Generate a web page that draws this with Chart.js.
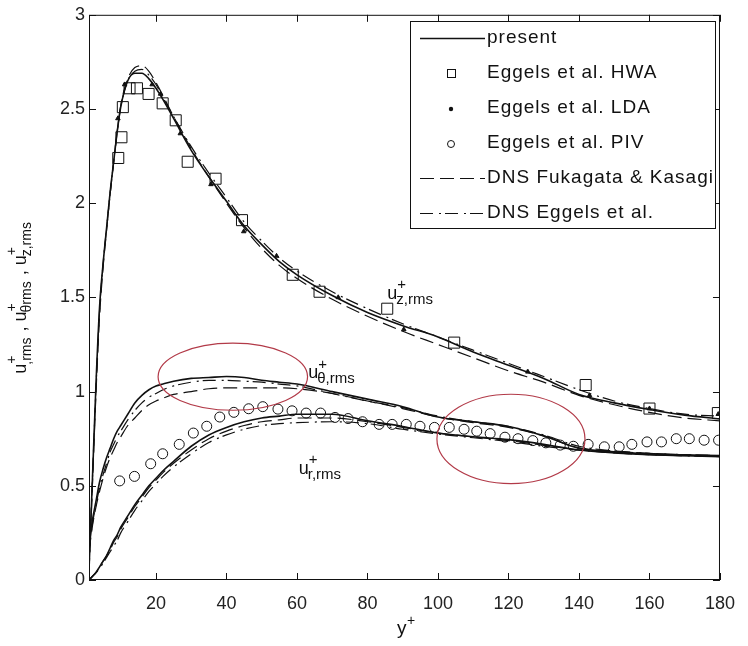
<!DOCTYPE html>
<html lang="en">
<head>
<meta charset="UTF-8">
<title>rms velocity fluctuations</title>
<script src="https://cdn.jsdelivr.net/npm/chart.js"></script>
<style>
  body { margin: 0; background: #fff; }
  #wrap { width: 748px; height: 646px; position: relative; }
</style>
</head>
<body>
<div id="wrap"><canvas id="rmsChart"></canvas></div>
<script>
  // wall distance of the curve samples
  const yPlus = [1, 2, 3, 4, 5, 6, 7, 8, 9, 10, 12, 14, 16, 18, 20, 22, 25, 30, 35, 40, 45, 50, 55, 60,
    70, 80, 90, 100, 110, 120, 130, 140, 150, 160, 170, 180];

  // u_z,rms
  const zPresent = [0.05, 0.55, 1.05, 1.45, 1.68, 1.87, 2.06, 2.22, 2.38, 2.51, 2.65, 2.69, 2.69, 2.66, 2.61, 2.55, 2.45,
    2.28, 2.14, 2.01, 1.88, 1.78, 1.69, 1.62, 1.51, 1.42, 1.35, 1.29, 1.21, 1.14, 1.07, 0.985, 0.94, 0.905, 0.875, 0.855];
  const zFukagata = [0.04, 0.52, 1.0, 1.4, 1.66, 1.86, 2.05, 2.22, 2.38, 2.52, 2.66, 2.72, 2.73, 2.70, 2.64, 2.57, 2.46,
    2.29, 2.14, 2.0, 1.87, 1.76, 1.67, 1.60, 1.49, 1.40, 1.32, 1.25, 1.18, 1.11, 1.05, 0.98, 0.93, 0.89, 0.86, 0.845];
  const zEggels = [0.05, 0.55, 1.03, 1.43, 1.68, 1.87, 2.05, 2.22, 2.38, 2.51, 2.65, 2.70, 2.71, 2.68, 2.63, 2.56, 2.46,
    2.30, 2.16, 2.03, 1.90, 1.80, 1.71, 1.64, 1.53, 1.44, 1.36, 1.29, 1.22, 1.15, 1.08, 1.01, 0.95, 0.91, 0.88, 0.87];

  // u_theta,rms
  const thetaPresent = [0.17, 0.32, 0.42, 0.52, 0.59, 0.65, 0.70, 0.75, 0.79, 0.82, 0.88, 0.94, 0.98, 1.01, 1.03, 1.04, 1.055,
    1.07, 1.075, 1.08, 1.075, 1.06, 1.05, 1.04, 1.0, 0.96, 0.92, 0.865, 0.84, 0.815, 0.765, 0.70, 0.68, 0.67, 0.665, 0.66];
  const thetaFukagata = [0.15, 0.29, 0.39, 0.47, 0.54, 0.60, 0.65, 0.69, 0.73, 0.76, 0.82, 0.86, 0.90, 0.93, 0.95, 0.965, 0.985,
    1.0, 1.015, 1.02, 1.02, 1.02, 1.02, 1.015, 0.99, 0.95, 0.91, 0.865, 0.835, 0.81, 0.765, 0.70, 0.685, 0.672, 0.665, 0.66];
  const thetaEggels = [0.16, 0.30, 0.40, 0.49, 0.56, 0.62, 0.68, 0.72, 0.76, 0.79, 0.85, 0.90, 0.94, 0.97, 0.99, 1.01, 1.03,
    1.05, 1.06, 1.06, 1.055, 1.05, 1.04, 1.03, 0.99, 0.95, 0.915, 0.87, 0.84, 0.815, 0.77, 0.71, 0.685, 0.672, 0.665, 0.66];

  // u_r,rms
  const rPresent = [0.0, 0.02, 0.04, 0.07, 0.10, 0.13, 0.17, 0.21, 0.24, 0.28, 0.34, 0.40, 0.45, 0.50, 0.54, 0.58, 0.63,
    0.71, 0.77, 0.81, 0.84, 0.86, 0.87, 0.88, 0.88, 0.845, 0.815, 0.78, 0.76, 0.745, 0.72, 0.69, 0.675, 0.665, 0.66, 0.655];
  const rFukagata = [0.0, 0.02, 0.04, 0.07, 0.10, 0.13, 0.16, 0.20, 0.23, 0.27, 0.33, 0.39, 0.44, 0.49, 0.53, 0.57, 0.62,
    0.69, 0.75, 0.79, 0.82, 0.84, 0.85, 0.86, 0.86, 0.84, 0.81, 0.78, 0.76, 0.74, 0.715, 0.69, 0.675, 0.665, 0.66, 0.655];
  const rEggels = [0.0, 0.02, 0.04, 0.06, 0.09, 0.12, 0.15, 0.18, 0.21, 0.25, 0.31, 0.37, 0.42, 0.47, 0.51, 0.55, 0.60,
    0.67, 0.73, 0.77, 0.80, 0.82, 0.83, 0.835, 0.84, 0.83, 0.80, 0.775, 0.755, 0.735, 0.71, 0.69, 0.675, 0.665, 0.66, 0.655];

  // experiments (Eggels et al.)
  const hwaX = [9.3, 10.2, 10.6, 12.5, 14.6, 17.9, 21.9, 25.6, 29.0, 36.9, 44.4, 58.8, 66.4, 85.6, 104.6, 141.9, 160, 179.4];
  const hwaY = [2.24, 2.35, 2.51, 2.61, 2.61, 2.58, 2.53, 2.44, 2.22, 2.13, 1.91, 1.62, 1.53, 1.44, 1.26, 1.035, 0.91, 0.886];
  const ldaX = [9.2, 11.1, 18.9, 21.3, 26.9, 35.6, 44.9, 54.2, 71.7, 90.3, 125.5, 143, 160, 179.5];
  const ldaY = [2.45, 2.63, 2.63, 2.58, 2.37, 2.10, 1.85, 1.72, 1.50, 1.33, 1.105, 0.98, 0.91, 0.88];
  const pivX = [9.7, 13.9, 18.5, 21.9, 26.6, 30.6, 34.4, 38.1, 42.1, 46.3, 50.3, 54.6, 58.6, 62.6, 66.7, 70.8, 74.5, 78.6,
    83.3, 87, 91, 94.9, 99, 103.2, 107.4, 111, 114.8, 119, 122.7, 126.9, 130.6, 134.7, 138.4, 142.6, 147.2, 151.4,
    155, 159.3, 163.4, 167.6, 171.3, 175.5, 179.6];
  const pivY = [0.526, 0.55, 0.617, 0.67, 0.72, 0.78, 0.816, 0.865, 0.89, 0.909, 0.92, 0.907, 0.898, 0.886, 0.886, 0.863,
    0.857, 0.84, 0.826, 0.826, 0.826, 0.816, 0.81, 0.81, 0.80, 0.79, 0.777, 0.758, 0.75, 0.74, 0.728, 0.716, 0.71, 0.72,
    0.707, 0.707, 0.72, 0.733, 0.733, 0.75, 0.75, 0.742, 0.742];

  const xTicks = [20, 40, 60, 80, 100, 120, 140, 160, 180];
  const yTicks = [0, 0.5, 1, 1.5, 2, 2.5, 3];

  const legendNames = ['present', 'Eggels et al. HWA', 'Eggels et al. LDA', 'Eggels et al. PIV',
    'DNS Fukagata & Kasagi', 'DNS Eggels et al.'];

  const FONT = '"Liberation Sans", Arial, sans-serif';
  const INK = '#111';
  const FK_DASH = [14, 6];
  const EG_DASH = [13, 6, 2, 4];

  function pairs(xs, ys) {
    return xs.map((x, i) => ({ x: x, y: ys[i] }));
  }

  function curve(ys, dash, width) {
    return {
      data: pairs(yPlus, ys),
      showLine: true,
      borderColor: INK,
      borderWidth: width,
      borderDash: dash,
      pointRadius: 0,
      cubicInterpolationMode: 'monotone',
      fill: false
    };
  }

  function markers(xs, ys, style, radius, filled) {
    return {
      data: pairs(xs, ys),
      showLine: false,
      pointStyle: style,
      pointRadius: radius,
      pointBorderWidth: 1,
      pointBorderColor: INK,
      pointBackgroundColor: filled ? INK : 'rgba(0,0,0,0)'
    };
  }

  // u+ with superscript and subscript, returns advance width
  function drawU(ctx, x, y, sub, big, small, measureOnly) {
    ctx.font = big + 'px ' + FONT;
    const wu = ctx.measureText('u').width;
    if (!measureOnly) ctx.fillText('u', x, y);
    ctx.font = small + 'px ' + FONT;
    const ws = ctx.measureText(sub).width;
    if (!measureOnly) {
      ctx.fillText('+', x + wu, y - big * 0.55);
      ctx.fillText(sub, x + wu - 1, y + big * 0.28);
    }
    return wu + ws;
  }

  const labelAnchors = [
    { x: 85.6, y: 1.49, sub: 'z,rms' },
    { x: 63.2, y: 1.07, sub: 'θ,rms' },
    { x: 60.5, y: 0.563, sub: 'r,rms' }
  ];
  const ellipses = [
    { x: 41.8, y: 1.079, rx: 21.2, ry: 0.178 },
    { x: 120.7, y: 0.749, rx: 21, ry: 0.237 }
  ];

  const decor = {
    id: 'decor',
    afterDraw(chart) {
      const { ctx, chartArea: a, scales: { x, y } } = chart;
      ctx.save();
      ctx.strokeStyle = INK;
      ctx.lineWidth = 1;
      ctx.setLineDash([]);
      ctx.strokeRect(a.left + 0.5, a.top + 0.5, a.right - a.left - 1, a.bottom - a.top - 1);

      // inward ticks on all four sides
      ctx.beginPath();
      xTicks.forEach(v => {
        const px = Math.round(x.getPixelForValue(v)) + 0.5;
        ctx.moveTo(px, a.bottom); ctx.lineTo(px, a.bottom - 7);
        ctx.moveTo(px, a.top); ctx.lineTo(px, a.top + 7);
      });
      yTicks.forEach(v => {
        const py = Math.round(y.getPixelForValue(v)) + 0.5;
        ctx.moveTo(a.left, py); ctx.lineTo(a.left + 7, py);
        ctx.moveTo(a.right, py); ctx.lineTo(a.right - 7, py);
      });
      ctx.stroke();

      // red ellipses
      ctx.strokeStyle = '#b23a48';
      ctx.lineWidth = 1.2;
      ellipses.forEach(e => {
        const cx = x.getPixelForValue(e.x), cy = y.getPixelForValue(e.y);
        const rx = x.getPixelForValue(e.x + e.rx) - cx;
        const ry = cy - y.getPixelForValue(e.y + e.ry);
        ctx.beginPath();
        ctx.ellipse(cx, cy, rx, ry, 0, 0, Math.PI * 2);
        ctx.stroke();
      });

      // curve labels
      ctx.fillStyle = INK;
      ctx.textBaseline = 'alphabetic';
      ctx.textAlign = 'left';
      labelAnchors.forEach(l => {
        drawU(ctx, x.getPixelForValue(l.x), y.getPixelForValue(l.y), l.sub, 18, 15);
      });

      // x title
      ctx.font = '19px ' + FONT;
      ctx.fillText('y', 397, 634);
      ctx.font = '14px ' + FONT;
      ctx.fillText('+', 407, 625);

      // y title, rotated
      const parts = [[',rms', ' , '], ['θrms', ' , '], ['z,rms', '']];
      ctx.translate(26, (a.top + a.bottom) / 2);
      ctx.rotate(-Math.PI / 2);
      let total = 0;
      parts.forEach(p => {
        total += drawU(ctx, 0, 0, p[0], 18, 14, true);
        ctx.font = '18px ' + FONT;
        total += ctx.measureText(p[1]).width;
      });
      let cx = -total / 2;
      parts.forEach(p => {
        cx += drawU(ctx, cx, 0, p[0], 18, 14);
        ctx.font = '18px ' + FONT;
        ctx.fillText(p[1], cx, 0);
        cx += ctx.measureText(p[1]).width;
      });
      ctx.restore();

      // legend box
      ctx.save();
      ctx.strokeStyle = INK;
      ctx.fillStyle = '#fff';
      ctx.lineWidth = 1;
      ctx.fillRect(410, 21, 305, 207);
      ctx.strokeRect(410.5, 21.5, 305, 207);
      ctx.font = '19px ' + FONT;
      ctx.fillStyle = INK;
      ctx.textBaseline = 'middle';
      legendNames.forEach((name, i) => {
        const ry = 38 + i * 35;
        ctx.letterSpacing = '1px';
        ctx.fillText(name, 487, ry);
        ctx.letterSpacing = '0px';
        ctx.beginPath();
        if (i === 0 || i === 4 || i === 5) {
          ctx.setLineDash(i === 0 ? [] : (i === 4 ? FK_DASH : EG_DASH));
          ctx.lineWidth = i === 0 ? 1.5 : 1.2;
          ctx.moveTo(420, ry + 0.5);
          ctx.lineTo(485, ry + 0.5);
          ctx.stroke();
          ctx.setLineDash([]);
        } else if (i === 1) {
          ctx.lineWidth = 1;
          ctx.strokeRect(447.5, ry - 3.5, 8, 8);
        } else if (i === 2) {
          ctx.arc(451, ry + 1, 2.2, 0, Math.PI * 2);
          ctx.fill();
        } else {
          ctx.lineWidth = 1;
          ctx.arc(451, ry + 1, 3.5, 0, Math.PI * 2);
          ctx.stroke();
        }
      });
      ctx.restore();
    }
  };

  const ctx = document.getElementById('rmsChart').getContext('2d');
  new Chart(ctx, {
    type: 'scatter',
    data: {
      datasets: [
        markers(hwaX, hwaY, 'rect', 7.8, false),
        markers(ldaX, ldaY, 'triangle', 2.6, true),
        markers(pivX, pivY, 'circle', 5, false),
        curve(zPresent, [], 1.6),
        curve(thetaPresent, [], 1.6),
        curve(rPresent, [], 1.6),
        curve(zFukagata, FK_DASH, 1.2),
        curve(thetaFukagata, FK_DASH, 1.2),
        curve(rFukagata, FK_DASH, 1.2),
        curve(zEggels, EG_DASH, 1.2),
        curve(thetaEggels, EG_DASH, 1.2),
        curve(rEggels, EG_DASH, 1.2)
      ]
    },
    options: {
      responsive: true,
      maintainAspectRatio: false,
      animation: false,
      layout: { padding: { top: 10, right: 15, left: 0, bottom: 0 } },
      plugins: {
        legend: { display: false },
        tooltip: { enabled: false }
      },
      scales: {
        x: {
          type: 'linear',
          min: 1,
          max: 180,
          afterBuildTicks: s => { s.ticks = xTicks.map(v => ({ value: v })); },
          afterFit: s => { s.height = 66; },
          grid: { display: false, drawTicks: false },
          border: { display: false },
          ticks: { color: '#222', padding: 13, maxRotation: 0, font: { family: FONT, size: 18 } }
        },
        y: {
          min: 0,
          max: 3,
          afterBuildTicks: s => { s.ticks = yTicks.map(v => ({ value: v })); },
          afterFit: s => { s.width = 89; },
          grid: { display: false, drawTicks: false },
          border: { display: false },
          ticks: { color: '#222', padding: 4, font: { family: FONT, size: 18 }, callback: v => String(v) }
        }
      }
    },
    plugins: [decor]
  });
</script>
</body>
</html>
